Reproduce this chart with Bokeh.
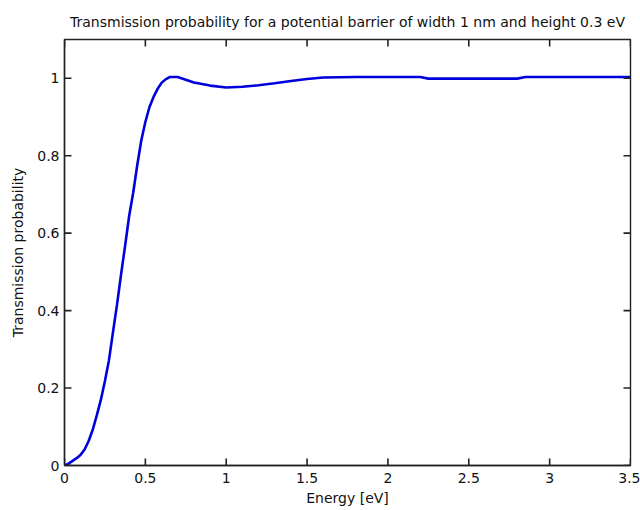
from bokeh.plotting import figure
from bokeh.models import Range1d, FixedTicker
from bokeh.embed import file_html
from bokeh.resources import INLINE

energy = [0, 0.025, 0.05, 0.075, 0.1, 0.125, 0.15, 0.175, 0.2, 0.225, 0.25, 0.275,
          0.3, 0.325, 0.35, 0.375, 0.4, 0.425, 0.45, 0.475, 0.5, 0.525, 0.55, 0.575,
          0.6, 0.625, 0.65, 0.7, 0.75, 0.8, 0.9, 1.0, 1.1, 1.2, 1.3, 1.4, 1.5, 1.6,
          1.8, 2.0, 2.2, 2.25, 2.5, 2.8, 2.85, 3.1, 3.5]
transmission = [0, 0.005, 0.012, 0.019, 0.028, 0.042, 0.064, 0.093, 0.13, 0.17, 0.218, 0.272,
                0.345, 0.416, 0.494, 0.568, 0.645, 0.705, 0.776, 0.84, 0.887, 0.925, 0.951, 0.972,
                0.988, 0.997, 1.003, 1.003, 0.996, 0.989, 0.981, 0.976, 0.978, 0.982, 0.987, 0.993, 0.998, 1.002,
                1.003, 1.003, 1.003, 0.999, 0.999, 0.999, 1.003, 1.003, 1.003]

x_ticks = [0, 0.5, 1, 1.5, 2, 2.5, 3, 3.5]
y_ticks = [0, 0.2, 0.4, 0.6, 0.8, 1.0]

FONT = "DejaVu Sans"
X0, X1, Y0, Y1 = 0, 3.5, 0, 1.1
FW, FH = 566, 426
TICK = 7  # inward tick length in pixels

p = figure(frame_width=FW, frame_height=FH, output_backend="svg", toolbar_location=None,
           x_range=Range1d(X0, X1), y_range=Range1d(Y0, Y1),
           min_border_left=64, min_border_right=10, min_border_top=39, min_border_bottom=45,
           x_axis_label="Energy [eV]", y_axis_label="Transmission probability",
           title="Transmission probability for a potential barrier of width 1 nm and height 0.3 eV")

p.background_fill_color = "white"
p.border_fill_color = "white"
p.outline_line_color = "#222222"
p.outline_line_width = 1.4
p.xgrid.visible = False
p.ygrid.visible = False

p.title.text_font = FONT
p.title.text_font_size = "14px"
p.title.text_font_style = "normal"
p.title.align = "center"
p.title.text_color = "#111111"
p.title.standoff = 19
p.title.offset = 6

p.line(energy, transmission, line_color="#0000dd", line_width=2.6)

# inward tick marks on all four sides of the box
dy = TICK * (Y1 - Y0) / FH
dx = TICK * (X1 - X0) / FW
nx, ny = len(x_ticks), len(y_ticks)
tick_style = dict(line_color="#222222", line_width=1.6)
p.segment(x0=x_ticks, y0=[Y0] * nx, x1=x_ticks, y1=[Y0 + dy] * nx, **tick_style)
p.segment(x0=x_ticks, y0=[Y1] * nx, x1=x_ticks, y1=[Y1 - dy] * nx, **tick_style)
p.segment(x0=[X0] * ny, y0=y_ticks, x1=[X0 + dx] * ny, y1=y_ticks, **tick_style)
p.segment(x0=[X1] * ny, y0=y_ticks, x1=[X1 - dx] * ny, y1=y_ticks, **tick_style)

def style(ax):
    ax.major_tick_in = 0
    ax.major_tick_out = 0
    ax.minor_tick_line_color = None
    ax.axis_line_color = "#222222"
    ax.axis_line_width = 1.4
    ax.major_label_text_font = FONT
    ax.major_label_text_font_size = "14px"
    ax.major_label_text_color = "#111111"
    ax.axis_label_text_font = FONT
    ax.axis_label_text_font_size = "14px"
    ax.axis_label_text_font_style = "normal"
    ax.axis_label_text_color = "#111111"

for ax in p.xaxis:
    ax.ticker = FixedTicker(ticks=x_ticks)
    style(ax)
    ax.major_label_overrides = {0: "0", 0.5: "0.5", 1: "1", 1.5: "1.5", 2: "2", 2.5: "2.5", 3: "3", 3.5: "3.5"}
    ax.major_label_standoff = 7
    ax.axis_label_standoff = 4
for ax in p.yaxis:
    ax.ticker = FixedTicker(ticks=y_ticks)
    style(ax)
    ax.major_label_overrides = {0: "0", 0.2: "0.2", 0.4: "0.4", 0.6: "0.6", 0.8: "0.8", 1.0: "1"}
    ax.major_label_standoff = 5
    ax.axis_label_standoff = 8

open("out.html", "w").write(file_html(p, INLINE))
